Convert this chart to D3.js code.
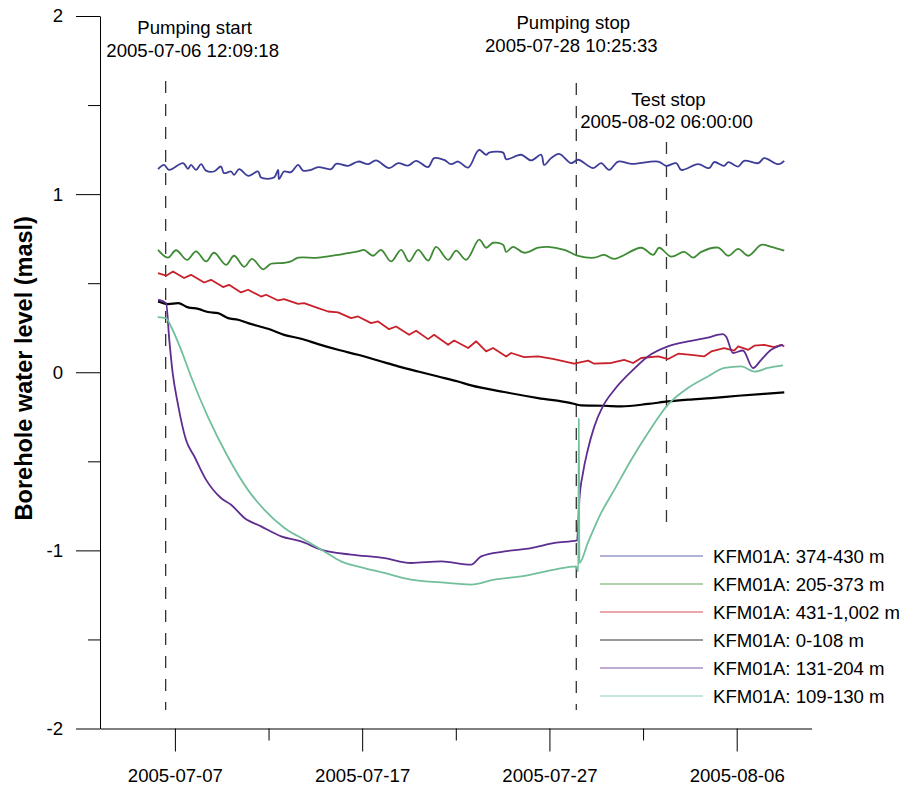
<!DOCTYPE html>
<html>
<head>
<meta charset="utf-8">
<script src="https://cdn.jsdelivr.net/npm/d3@7"></script>
<style>
  body { margin: 0; background: #fff; }
  svg { display: block; font-family: "Liberation Sans", Arial, sans-serif; }
  .axis path, .axis line { stroke: #000; }
  .axis text { font-size: 18.6px; fill: #000; font-family: "Liberation Sans", Arial, sans-serif; }
</style>
</head>
<body>
<script>
// days since 2005-07-03 00:00 UTC, levels in masl
const startDate = Date.UTC(2005, 6, 3);

const blueDays = [3.10,3.42,3.69,4.43,4.70,4.86,5.13,5.40,5.66,6.09,6.46,6.62,7.00,7.16,7.43,7.91,8.44,8.60,9.29,9.51,9.56,9.83,10.20,10.58,10.84,11.27,11.65,12.34,12.61,13.25,13.78,14.32,14.74,15.44,15.92,16.45,16.88,17.52,17.84,18.38,18.75,19.12,19.66,20.09,20.25,20.62,20.78,21.53,21.69,22.49,23.02,23.56,23.72,24.09,24.52,25.16,25.53,26.34,26.76,27.19,27.67,28.37,29.81,30.24,30.77,31.04,31.94,32.53,32.80,33.33,33.55,34.08,34.40,35.15,35.47,36.22,36.54];
const blueLevels = [1.140,1.164,1.136,1.174,1.142,1.164,1.136,1.168,1.132,1.127,1.155,1.118,1.127,1.108,1.140,1.103,1.127,1.093,1.093,1.136,1.084,1.127,1.123,1.164,1.132,1.136,1.152,1.140,1.170,1.159,1.183,1.168,1.189,1.146,1.174,1.160,1.187,1.152,1.202,1.192,1.168,1.183,1.149,1.230,1.249,1.221,1.233,1.233,1.196,1.221,1.189,1.221,1.164,1.202,1.226,1.174,1.193,1.146,1.174,1.136,1.183,1.170,1.183,1.159,1.174,1.136,1.168,1.146,1.180,1.159,1.180,1.155,1.187,1.174,1.202,1.168,1.187];

const greenDays = [3.10,3.63,4.06,4.65,5.13,5.66,6.09,6.73,7.16,7.70,8.12,8.71,9.13,9.83,10.20,10.58,11.65,12.71,13.78,14.10,14.58,15.01,15.54,16.08,16.51,16.99,17.52,17.95,18.59,19.02,19.55,20.25,20.62,20.99,21.53,21.69,22.06,22.65,23.40,23.93,24.79,25.53,26.39,26.92,27.46,28.90,29.54,29.86,30.50,31.20,31.68,32.11,33.01,33.55,34.08,34.62,35.31,35.84,36.54];
const greenLevels = [0.687,0.643,0.685,0.631,0.679,0.622,0.671,0.603,0.654,0.592,0.637,0.578,0.609,0.614,0.622,0.643,0.643,0.659,0.678,0.687,0.654,0.687,0.622,0.687,0.622,0.687,0.627,0.704,0.631,0.683,0.631,0.744,0.699,0.727,0.715,0.676,0.704,0.671,0.699,0.704,0.687,0.654,0.643,0.659,0.637,0.699,0.659,0.699,0.649,0.676,0.643,0.676,0.699,0.654,0.693,0.654,0.715,0.704,0.683];

const redDays = [3.10,3.53,3.90,4.49,4.86,5.56,5.93,6.57,6.89,7.53,7.91,8.60,8.87,9.51,9.83,10.58,10.90,11.65,12.18,12.71,13.41,13.78,14.48,14.85,15.44,15.81,16.51,16.88,17.52,17.84,18.59,18.91,19.66,20.09,20.62,20.99,21.69,21.96,22.65,23.40,24.25,25.32,26.07,26.39,27.30,27.99,28.47,28.90,29.81,30.34,30.88,31.57,32.26,32.64,33.33,33.87,34.08,34.62,34.94,35.47,36.00,36.38,36.54];
const redLevels = [0.557,0.542,0.566,0.529,0.547,0.504,0.519,0.478,0.491,0.448,0.463,0.425,0.435,0.403,0.411,0.384,0.388,0.360,0.341,0.336,0.304,0.313,0.276,0.285,0.242,0.257,0.210,0.233,0.186,0.210,0.154,0.178,0.136,0.174,0.117,0.136,0.089,0.108,0.085,0.089,0.074,0.048,0.065,0.048,0.052,0.070,0.052,0.080,0.089,0.074,0.104,0.098,0.089,0.117,0.136,0.122,0.145,0.126,0.149,0.154,0.141,0.154,0.145];

const blackDays = [3.10,3.63,4.17,4.70,5.24,5.77,6.30,6.84,7.37,7.91,8.97,9.83,10.74,11.65,12.71,13.78,14.85,15.92,16.99,18.06,19.12,19.82,21.58,23.40,25.16,25.69,26.92,27.83,29.27,30.34,31.41,32.64,34.08,35.47,36.54];
const blackLevels = [0.397,0.383,0.388,0.364,0.356,0.338,0.332,0.304,0.295,0.276,0.244,0.210,0.188,0.158,0.126,0.098,0.066,0.033,0.004,-0.024,-0.052,-0.074,-0.111,-0.145,-0.173,-0.186,-0.188,-0.192,-0.178,-0.164,-0.154,-0.145,-0.132,-0.121,-0.113];

const purpleDays = [3.10,3.53,3.70,3.88,4.15,4.59,5.04,5.66,6.46,7.00,7.71,8.60,9.67,10.74,11.81,13.41,15.19,16.61,18.22,19.82,20.35,21.60,23.02,24.27,25.48,25.52,25.60,25.79,26.05,26.40,26.85,27.47,28.37,29.26,30.33,31.39,32.46,33.26,33.44,33.80,34.33,34.87,35.31,35.84,36.47];
const purpleLevels = [0.407,0.388,0.182,-0.004,-0.173,-0.379,-0.473,-0.603,-0.706,-0.744,-0.818,-0.865,-0.921,-0.950,-0.996,-1.024,-1.043,-1.071,-1.062,-1.080,-1.034,-1.006,-0.987,-0.958,-0.944,-0.884,-0.716,-0.566,-0.435,-0.304,-0.192,-0.098,0.004,0.089,0.145,0.173,0.195,0.214,0.199,0.108,0.122,0.024,0.070,0.126,0.154];

const tealDays = [3.08,3.53,3.79,4.33,4.86,5.75,6.82,7.89,8.78,9.85,10.91,11.98,12.87,14.12,15.19,16.61,18.22,19.82,21.06,22.49,24.27,25.43,25.54,25.57,25.60,26.05,26.76,27.47,28.37,29.26,30.33,31.39,32.46,33.35,34.24,34.95,35.67,36.47];
const tealLevels = [0.310,0.304,0.257,0.126,-0.024,-0.248,-0.473,-0.659,-0.772,-0.874,-0.940,-1.006,-1.062,-1.099,-1.127,-1.164,-1.180,-1.192,-1.164,-1.146,-1.108,-1.090,-1.118,-0.257,-1.071,-0.958,-0.790,-0.659,-0.491,-0.341,-0.182,-0.089,-0.024,0.024,0.033,0.004,0.024,0.038];

const seriesNames = ['KFM01A: 374-430 m', 'KFM01A: 205-373 m', 'KFM01A: 431-1,002 m',
                     'KFM01A: 0-108 m', 'KFM01A: 131-204 m', 'KFM01A: 109-130 m'];
const seriesColors = ['#3d3d98', '#3f8a34', '#c9212b', '#000000', '#5d2e90', '#72bf9c'];

const eventNames = ['Pumping start', 'Pumping stop', 'Test stop'];
const eventTimes = ['2005-07-06 12:09:18', '2005-07-28 10:25:33', '2005-08-02 06:00:00'];

const yTicks = [-2, -1, 0, 1, 2];
const yMinorTicks = [-1.5, -0.5, 0.5, 1.5];
const xTicks = ['2005-07-07', '2005-07-17', '2005-07-27', '2005-08-06'];
const xMinorTicks = ['2005-07-12', '2005-07-22', '2005-08-01'];

const width = 899, height = 785;
const plot = { left: 100, right: 811.6, top: 16, bottom: 728.5 };

const toDate = (d) => new Date(startDate + d * 864e5);
const parseDay = d3.utcParse('%Y-%m-%d');
const parseTime = d3.utcParse('%Y-%m-%d %H:%M:%S');

const x = d3.scaleUtc()
  .domain([new Date(Date.UTC(2005, 6, 3)), new Date(Date.UTC(2005, 7, 10))])
  .range([plot.left, plot.right]);

const y = d3.scaleLinear()
  .domain([-2, 2])
  .range([plot.bottom, plot.top]);

const svg = d3.select('body')
  .append('svg')
  .attr('width', width)
  .attr('height', height);

svg.append('rect')
  .attr('width', width)
  .attr('height', height)
  .attr('fill', '#fff');

// axes
svg.append('g')
  .attr('class', 'axis')
  .attr('transform', `translate(${plot.left},0)`)
  .call(d3.axisLeft(y).tickValues(yTicks).tickSize(24).tickSizeOuter(0)
    .tickPadding(13).tickFormat((d) => String(d)));

svg.append('g')
  .attr('class', 'axis')
  .attr('transform', `translate(${plot.left},0)`)
  .call(d3.axisLeft(y).tickValues(yMinorTicks).tickSize(12).tickSizeOuter(0).tickFormat(''))
  .select('.domain').remove();

svg.append('g')
  .attr('class', 'axis')
  .attr('transform', `translate(0,${plot.bottom})`)
  .call(d3.axisBottom(x).tickValues(xTicks.map(parseDay)).tickSize(23).tickSizeOuter(0)
    .tickPadding(17).tickFormat(d3.utcFormat('%Y-%m-%d')));

svg.append('g')
  .attr('class', 'axis')
  .attr('transform', `translate(0,${plot.bottom})`)
  .call(d3.axisBottom(x).tickValues(xMinorTicks.map(parseDay)).tickSize(12).tickSizeOuter(0).tickFormat(''))
  .select('.domain').remove();

svg.append('text')
  .attr('transform', `translate(32,${(plot.top + plot.bottom) / 2 - 4}) rotate(-90)`)
  .attr('text-anchor', 'middle')
  .style('font-size', '23.5px')
  .style('font-weight', 'bold')
  .text('Borehole water level (masl)');

// event markers
const eventLayout = [
  { top: 81, bottom: 710, dx: 29, y1: 34.3 },
  { top: 83, bottom: 710, dx: -3, y1: 29.3 },
  { top: 142, bottom: 533, dx: 2, y1: 106 }
];

eventTimes.forEach((t, i) => {
  const ex = x(parseTime(t));
  const lay = eventLayout[i];
  svg.append('line')
    .attr('x1', ex).attr('x2', ex)
    .attr('y1', lay.top).attr('y2', lay.bottom)
    .attr('stroke', '#333')
    .attr('stroke-width', 1.3)
    .attr('stroke-dasharray', '12,11');
  const label = svg.append('text')
    .attr('text-anchor', 'middle')
    .style('font-size', '18.6px');
  label.append('tspan').attr('x', ex + lay.dx).attr('y', lay.y1).text(eventNames[i]);
  label.append('tspan').attr('x', ex + lay.dx - 2).attr('y', lay.y1 + 22.4).text(t);
});

// series
const series = [
  [blueDays, blueLevels], [greenDays, greenLevels], [redDays, redLevels],
  [blackDays, blackLevels], [purpleDays, purpleLevels], [tealDays, tealLevels]
];
const curves = [d3.curveCatmullRom.alpha(0.5), d3.curveCatmullRom.alpha(0.5), d3.curveLinear,
                d3.curveMonotoneX, d3.curveMonotoneX, d3.curveMonotoneX];

series.forEach(([days, levels], i) => {
  const line = d3.line()
    .curve(curves[i])
    .x((d) => x(toDate(d[0])))
    .y((d) => y(d[1]));
  svg.append('path')
    .datum(d3.zip(days, levels))
    .attr('fill', 'none')
    .attr('stroke', seriesColors[i])
    .attr('stroke-width', i === 3 ? 2.2 : 1.8)
    .attr('stroke-linejoin', 'round')
    .attr('d', line);
});

// legend
const legend = svg.append('g')
  .attr('transform', 'translate(600,556)');

seriesNames.forEach((name, i) => {
  const row = legend.append('g').attr('transform', `translate(0,${i * 28})`);
  row.append('line')
    .attr('x1', 0).attr('x2', 103)
    .attr('stroke', seriesColors[i])
    .attr('stroke-opacity', 0.8)
    .attr('stroke-width', 1.2);
  row.append('text')
    .attr('x', 113)
    .attr('dy', '0.35em')
    .style('font-size', '18.6px')
    .text(name);
});
</script>
</body>
</html>
